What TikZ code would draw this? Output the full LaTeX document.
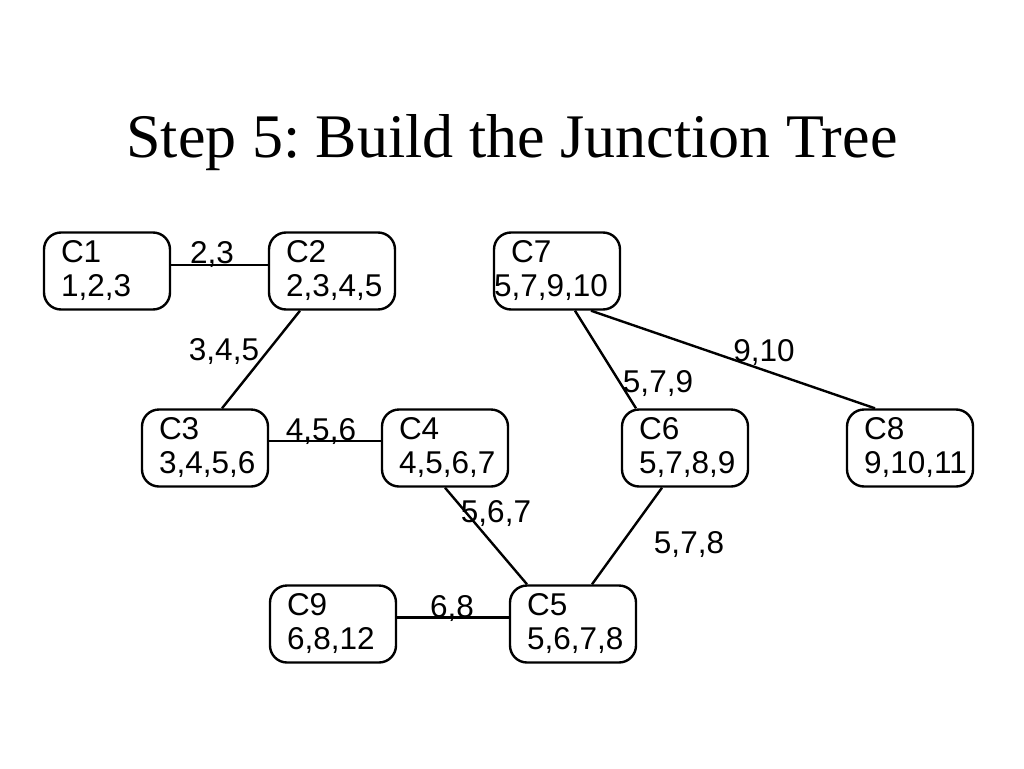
\documentclass[tikz,border=0pt]{standalone}
\usepackage{fontspec}
\setmainfont{Liberation Serif}
\setsansfont{Liberation Sans}
\frenchspacing

\tikzset{
  clique/.style = {draw, line width = 2.4pt, rounded corners = 17pt,
    font = \sffamily\fontsize{31.5}{34}\selectfont, align = left,
    text width = 92pt, inner xsep = 17pt, inner ysep = 0pt, minimum height = 77pt},
  sepset/.style = {font = \sffamily\fontsize{31.5}{34}\selectfont, anchor = base, inner sep = 0pt},
  link/.style = {line width = 2.4pt}
}

\begin{document}
\begin{tikzpicture}[x = 1pt, y = -1pt]
            \useasboundingbox (0,0) rectangle (1024,768);
            \fill [white] (0,0) rectangle (1024,768);

            \node [anchor = base, font = \rmfamily\fontsize{62}{70}\selectfont] (title)
            at (512,157) {Step 5: Build the Junction Tree};

            % cliques
            \node [clique] (C1) at (107,271) {C1\\1,2,3};
            \node [clique] (C2) at (332,271) {C2\\2,3,4,5};
            \node [clique] (C7) at (557,271) {C7\\\hspace*{-17pt}5,7,9,10};
            \node [clique] (C3) at (205,448) {C3\\3,4,5,6};
            \node [clique] (C4) at (445,448) {C4\\4,5,6,7};
            \node [clique] (C6) at (685,448) {C6\\5,7,8,9};
            \node [clique] (C8) at (910,448) {C8\\9,10,11};
            \node [clique] (C9) at (333,624) {C9\\6,8,12};
            \node [clique] (C5) at (573,624) {C5\\5,6,7,8};

            % links
            \draw [link] ([yshift = 6pt]C1.east) -- ([yshift = 6pt]C2.west);
            \draw [link] ([xshift = -32pt]C2.south) -- ([xshift = 17pt]C3.north);
            \draw [link] ([yshift = 7pt]C3.east) -- ([yshift = 7pt]C4.west);
            \draw [link] (C4.south) -- ([xshift = -46pt]C5.north);
            \draw [link] ([xshift = -23pt]C6.south) -- ([xshift = 19pt]C5.north);
            \draw [link] ([xshift = 18pt]C7.south) -- ([xshift = -49pt]C6.north);
            \draw [link] ([xshift = 34pt]C7.south) -- ([xshift = -35pt]C8.north);
            \draw [link] ([yshift = 6.5pt]C9.east) -- ([yshift = 6.5pt]C5.west);

            % separators
            \node [sepset] (s12) at (212,263) {2,3};
            \node [sepset] (s23) at (224,360) {3,4,5};
            \node [sepset] (s34) at (321,440) {4,5,6};
            \node [sepset] (s45) at (496,522) {5,6,7};
            \node [sepset] (s65) at (689,553) {5,7,8};
            \node [sepset] (s76) at (658,392) {5,7,9};
            \node [sepset] (s78) at (764,361) {9,10};
            \node [sepset] (s95) at (452,617) {6,8};
        \end{tikzpicture}
\end{document}
